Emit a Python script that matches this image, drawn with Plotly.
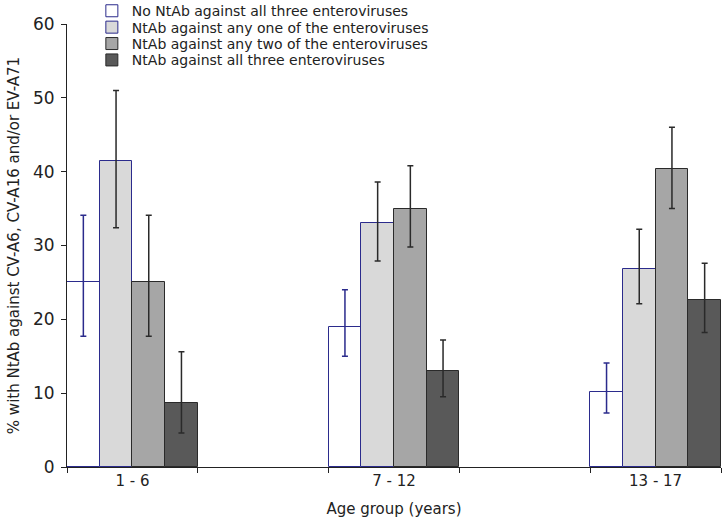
import plotly.graph_objects as go

categories = ["1 - 6", "7 - 12", "13 - 17"]
axis_order = ["1 - 6", " ", "7 - 12", "  ", "13 - 17"]

series_names = [
    "No NtAb against all three enteroviruses",
    "NtAb against any one of the enteroviruses",
    "NtAb against any two of the enteroviruses",
    "NtAb against all three enteroviruses",
]
none_vals = [25.0, 19.0, 10.2]
none_lo = [17.7, 15.0, 7.3]
none_hi = [34.1, 24.0, 14.1]

one_vals = [41.4, 33.0, 26.8]
one_lo = [32.4, 27.9, 22.1]
one_hi = [51.0, 38.6, 32.2]

two_vals = [25.0, 35.0, 40.4]
two_lo = [17.7, 29.8, 35.0]
two_hi = [34.1, 40.8, 46.0]

three_vals = [8.7, 13.0, 22.6]
three_lo = [4.6, 9.5, 18.2]
three_hi = [15.6, 17.2, 27.6]

NAVY = "#2b2b8c"
DARK = "#2a2a2a"
FONT = "DejaVu Sans, Liberation Sans, Arial, sans-serif"
styles = [
    ("#ffffff", NAVY, NAVY),
    ("#d9d9d9", NAVY, DARK),
    ("#a6a6a6", DARK, DARK),
    ("#595959", DARK, DARK),
]
data = [
    (none_vals, none_lo, none_hi),
    (one_vals, one_lo, one_hi),
    (two_vals, two_lo, two_hi),
    (three_vals, three_lo, three_hi),
]
legend_ids = ["legend", "legend2", "legend3", "legend4"]
legend_rows_y = [1.029, 0.992, 0.955, 0.918]

fig = go.Figure()
for name, (vals, lo, hi), (fill, line, err), lid in zip(series_names, data, styles, legend_ids):
    fig.add_trace(go.Bar(
        x=categories, y=vals, name=name, legend=lid,
        marker=dict(color=fill, line=dict(color=line, width=1)),
        error_y=dict(type="data", symmetric=False,
                     array=[h - v for h, v in zip(hi, vals)],
                     arrayminus=[v - l for v, l in zip(vals, lo)],
                     color=err, thickness=1.5, width=3),
    ))

legend_layout = {}
for lid, ly in zip(legend_ids, legend_rows_y):
    legend_layout[lid] = dict(
        x=0.038, y=ly, xanchor="left", yanchor="middle",
        font=dict(family=FONT, size=14, color="#222222"),
        bgcolor="rgba(0,0,0,0)", borderwidth=0,
    )

fig.update_layout(
    width=723, height=522,
    margin=dict(l=67, r=2, t=24, b=55, autoexpand=False),
    paper_bgcolor="white", plot_bgcolor="white",
    barmode="group", bargap=0, bargroupgap=0,
    font=dict(family=FONT, color="#222222"),
    showlegend=True,
    **legend_layout,
    xaxis=dict(
        type="category", categoryorder="array", categoryarray=axis_order,
        range=[-0.5, 4.5], tickson="boundaries", ticks="outside",
        ticklen=5, tickcolor="#222222", showline=True, linecolor="#222222",
        linewidth=1, showgrid=False, tickfont=dict(size=15),
        ticklabelstandoff=0, automargin=False,
        title=dict(text="Age group (years)", font=dict(size=15), standoff=14),
    ),
    yaxis=dict(
        range=[0, 60], dtick=10, ticks="outside", ticklen=5,
        tickcolor="#222222", showline=True, linecolor="#222222", linewidth=1,
        showgrid=False, zeroline=False, tickfont=dict(size=17),
        ticklabelstandoff=3, automargin=False,
        title=dict(text="% with NtAb against CV-A6, CV-A16 and/or EV-A71",
                   font=dict(size=15), standoff=9),
    ),
)

fig.write_html("out.html", config={"displayModeBar": False},
               post_script="document.body.style.margin='0';")
